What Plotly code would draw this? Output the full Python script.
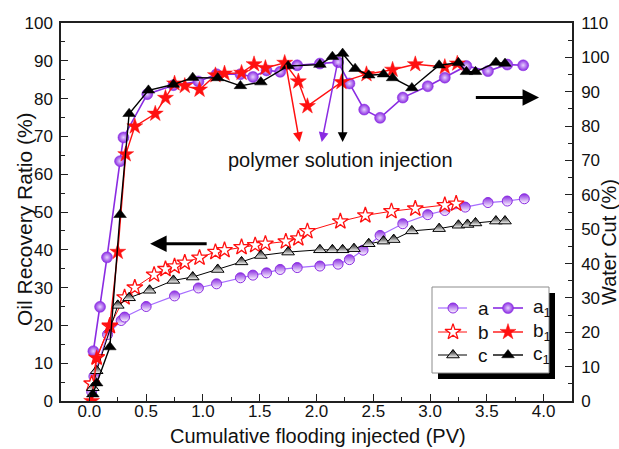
import plotly.graph_objects as go

# ---------------- data ----------------
# a : oil recovery (left axis), a1 : water cut (right axis)
a_x = [0.02, 0.04, 0.16, 0.28, 0.31, 0.50, 0.75, 0.96, 1.12, 1.33, 1.44, 1.56, 1.68,
       1.83, 2.03, 2.19, 2.29, 2.41, 2.56, 2.76, 2.98, 3.13, 3.31, 3.51, 3.68, 3.83]
a_y = [2.5, 6.5, 17.6, 21.3, 22.2, 25.0, 27.8, 29.9, 31.0, 32.6, 33.3, 33.9, 34.8,
       35.3, 35.7, 36.2, 37.4, 39.9, 43.8, 46.9, 49.3, 50.4, 51.3, 52.5, 52.9, 53.5]

a1_x = [0.035, 0.094, 0.155, 0.27, 0.30, 0.51, 0.74, 0.96, 1.12, 1.33, 1.44, 1.56, 1.68,
        1.83, 2.03, 2.19, 2.29, 2.42, 2.56, 2.76, 2.98, 3.13, 3.32, 3.51, 3.68, 3.82]
a1_y = [14.5, 27.4, 41.8, 69.8, 76.7, 89.3, 91.9, 93.0, 95.1, 95.1, 94.3, 96.2, 95.8,
        97.7, 98.2, 98.6, 92.4, 84.8, 82.4, 88.3, 91.6, 94.1, 97.5, 96.0, 97.9, 97.7]

b_x = [0.02, 0.064, 0.18, 0.31, 0.40, 0.57, 0.67, 0.75, 0.84, 0.97, 1.11, 1.19, 1.34,
       1.46, 1.55, 1.73, 1.84, 1.92, 2.21, 2.43, 2.66, 2.87, 3.13, 3.23]
b_y = [4.6, 11.6, 19.8, 27.4, 30.0, 33.4, 34.9, 35.6, 36.6, 37.9, 39.4, 39.9, 40.7,
       41.2, 41.6, 42.2, 43.0, 44.9, 47.5, 49.1, 50.2, 50.9, 51.8, 52.2]

b1_x = [0.02, 0.064, 0.18, 0.25, 0.32, 0.40, 0.58, 0.67, 0.75, 0.84, 0.97, 1.11, 1.19,
        1.34, 1.45, 1.55, 1.72, 1.84, 1.92, 2.22, 2.44, 2.67, 2.87, 3.13, 3.24]
b1_y = [0.0, 12.5, 22.0, 43.4, 71.8, 79.9, 83.6, 88.2, 92.4, 91.7, 90.6, 94.8, 95.3,
        95.5, 98.0, 96.9, 98.4, 93.0, 85.8, 92.8, 95.1, 96.4, 98.0, 97.2, 98.2]

c_x = [0.03, 0.064, 0.25, 0.35, 0.53, 0.74, 0.91, 1.13, 1.34, 1.51, 1.75, 2.03, 2.14,
       2.23, 2.33, 2.46, 2.59, 2.68, 2.84, 3.08, 3.25, 3.33, 3.40, 3.58, 3.66]
c_y = [3.5, 8.0, 25.3, 27.3, 29.3, 31.9, 32.8, 34.8, 36.8, 38.5, 39.4, 40.0, 40.0,
       40.0, 40.3, 41.6, 42.3, 42.7, 45.0, 45.6, 46.5, 46.7, 47.1, 47.6, 47.6]

c1_x = [0.03, 0.064, 0.18, 0.27, 0.35, 0.52, 0.74, 0.91, 1.13, 1.33, 1.51, 1.75, 2.03,
        2.14, 2.23, 2.34, 2.46, 2.59, 2.67, 2.84, 3.08, 3.25, 3.32, 3.40, 3.58, 3.66]
c1_y = [2.0, 5.2, 15.7, 54.2, 83.6, 90.4, 92.1, 94.1, 94.0, 91.7, 92.8, 97.5, 97.9,
        100.2, 101.1, 96.7, 94.8, 95.1, 94.0, 91.1, 97.7, 98.4, 95.8, 95.8, 98.5, 98.2]

x_ticks = [0.0, 0.5, 1.0, 1.5, 2.0, 2.5, 3.0, 3.5, 4.0]
legend_names = ["a", "a<sub>1</sub>", "b", "b<sub>1</sub>", "c", "c<sub>1</sub>"]

# ---------------- styling ----------------
FONT = "Liberation Sans, Arial, sans-serif"
PURPLE = "#8a2be2"
PURPLE_L = "#a66cff"
RED = "#ff1010"
BLACK = "#000000"
AX = "#202020"

styles = {
    "a": dict(line=dict(color=PURPLE_L, width=1.2),
              marker=dict(symbol="circle", size=10, color=PURPLE,
                          gradient=dict(type="vertical", color="white"),
                          line=dict(color=PURPLE, width=1))),
    "a1": dict(line=dict(color=PURPLE, width=1.6),
               marker=dict(symbol="circle", size=11, color=PURPLE,
                           gradient=dict(type="radial", color="#e6d0ff"),
                           line=dict(color=PURPLE, width=0.5))),
    "b": dict(line=dict(color=RED, width=1.0),
              marker=dict(symbol="star", size=12, color="white",
                          line=dict(color=RED, width=1.3))),
    "b1": dict(line=dict(color=RED, width=1.4),
               marker=dict(symbol="star", size=12, color=RED,
                           line=dict(color=RED, width=0.5))),
    "c": dict(line=dict(color=BLACK, width=1.0),
              marker=dict(symbol="triangle-up", size=11, color=BLACK,
                          gradient=dict(type="vertical", color="white"),
                          line=dict(color=BLACK, width=1))),
    "c1": dict(line=dict(color=BLACK, width=1.4),
               marker=dict(symbol="triangle-up", size=11, color=BLACK,
                           line=dict(color=BLACK, width=0.5))),
}

fig = go.Figure()

series = [
    ("a", a_x, a_y, "y"), ("b", b_x, b_y, "y"), ("c", c_x, c_y, "y"),
    ("a1", a1_x, a1_y, "y2"), ("b1", b1_x, b1_y, "y2"), ("c1", c1_x, c1_y, "y2"),
]
for key, xs, ys, ax in series:
    fig.add_trace(go.Scatter(x=xs, y=ys, mode="lines+markers", yaxis=ax,
                             showlegend=False, **styles[key]))

# ---------------- manual legend (pixel-like overlay axes) ----------------
L, R, T, B = 61, 47, 23, 48
W, H = 619, 449
rows = [308, 332, 355]
cols = [(438, 467, 453, 476), (493, 523, 508, 531)]
keys = [["a", "a1"], ["b", "b1"], ["c", "c1"]]
names = [[legend_names[0], legend_names[1]], [legend_names[2], legend_names[3]],
         [legend_names[4], legend_names[5]]]
shapes = [
    dict(type="rect", xref="x3", yref="y3", x0=438, x1=555, y0=293, y1=379,
         fillcolor="black", line=dict(width=0), layer="below"),
    dict(type="rect", xref="x3", yref="y3", x0=432, x1=549, y0=287, y1=373,
         fillcolor="white", line=dict(color="#8c8c8c", width=1), layer="below"),
]
annotations = []
for ri, ry in enumerate(rows):
    for ci, (lx0, lx1, mx, tx) in enumerate(cols):
        k = keys[ri][ci]
        st = styles[k]
        fig.add_trace(go.Scatter(x=[lx0, lx1], y=[ry, ry], mode="lines", xaxis="x3",
                                 yaxis="y3", line=st["line"], showlegend=False,
                                 hoverinfo="skip"))
        fig.add_trace(go.Scatter(x=[mx], y=[ry], mode="markers", xaxis="x3", yaxis="y3",
                                 marker=st["marker"], showlegend=False, hoverinfo="skip"))
        annotations.append(dict(xref="x3", yref="y3", x=tx, y=ry, text=names[ri][ci],
                                showarrow=False, xanchor="left", yanchor="middle",
                                font=dict(family=FONT, size=19, color="#111")))

# ---------------- arrows & text ----------------
arrow_common = dict(xref="x", yref="y", axref="x", ayref="y", text="",
                    showarrow=True, arrowhead=2)
annotations += [
    dict(x=1.851, y=68.5, ax=1.728, ay=89.4, arrowcolor=RED, arrowwidth=1.5,
         arrowsize=1.3, **arrow_common),
    dict(x=2.046, y=68.5, ax=2.184, ay=89.3, arrowcolor=PURPLE, arrowwidth=1.5,
         arrowsize=1.3, **arrow_common),
    dict(x=2.23, y=68.5, ax=2.23, ay=91.9, arrowcolor=BLACK, arrowwidth=1.5,
         arrowsize=1.3, **arrow_common),
    dict(x=3.96, y=80.3, ax=3.39, ay=80.3, arrowcolor=BLACK, arrowwidth=3,
         arrowsize=1.1, **arrow_common),
    dict(x=0.535, y=41.6, ax=1.046, ay=41.6, arrowcolor=BLACK, arrowwidth=3,
         arrowsize=1.1, **arrow_common),
    dict(xref="x", yref="y", x=2.215, y=63.7, text="polymer solution injection",
         showarrow=False, xanchor="center", yanchor="middle",
         font=dict(family=FONT, size=20, color="#111")),
]


def px_to_paper(px, py):
    return (px - L) / (W - L - R), (H - B - py) / (H - T - B)


for text, (px, py), ang, fs in [("Cumulative flooding injected (PV)", (318, 436), 0, 20),
                                ("Oil Recovery Ratio (%)", (24, 219), -90, 21),
                                ("Water Cut (%)", (609, 242), -90, 20)]:
    xp, yp = px_to_paper(px, py)
    annotations.append(dict(xref="paper", yref="paper", x=xp, y=yp, text=text,
                            showarrow=False, textangle=ang, xanchor="center",
                            yanchor="middle", font=dict(family=FONT, size=fs, color="#111")))

tickfont = dict(family=FONT, size=17, color="#111")
axis_common = dict(showline=True, linecolor=AX, linewidth=1.5, ticks="inside",
                   tickcolor=AX, tickwidth=1.3, ticklen=7, showgrid=False,
                   zeroline=False, tickfont=tickfont, automargin=False)

fig.update_layout(
    width=W, height=H, margin=dict(l=L, r=R, t=T, b=B),
    paper_bgcolor="white", plot_bgcolor="white",
    template="none", showlegend=False,
    font=dict(family=FONT),
    xaxis=dict(range=[-0.25, 4.25], tickmode="array", tickvals=x_ticks,
               ticktext=[f"{v:.1f}" for v in x_ticks], mirror=True,
               minor=dict(ticks="inside", ticklen=4, tickcolor=AX, tickwidth=1.2,
                          tickvals=[v + 0.25 for v in [-0.5] + x_ticks]),
               ticklabelstandoff=-6, **axis_common),
    yaxis=dict(range=[0, 100], dtick=10, tick0=0,
               minor=dict(ticks="inside", ticklen=4, tickcolor=AX, tickwidth=1.2, dtick=5),
               ticklabelstandoff=3, **axis_common),
    yaxis2=dict(range=[0, 110], dtick=10, tick0=0, overlaying="y", side="right",
                minor=dict(ticks="inside", ticklen=4, tickcolor=AX, tickwidth=1.2, dtick=5),
                ticklabelstandoff=4, **axis_common),
    xaxis3=dict(range=[L, W - R], overlaying="x", visible=False, fixedrange=True),
    yaxis3=dict(range=[H - B, T], overlaying="y", visible=False, fixedrange=True),
    shapes=shapes,
    annotations=annotations,
)

fig.write_html("out.html", config={"displayModeBar": False},
               post_script="document.body.style.margin='0';document.body.style.overflow='hidden';")
